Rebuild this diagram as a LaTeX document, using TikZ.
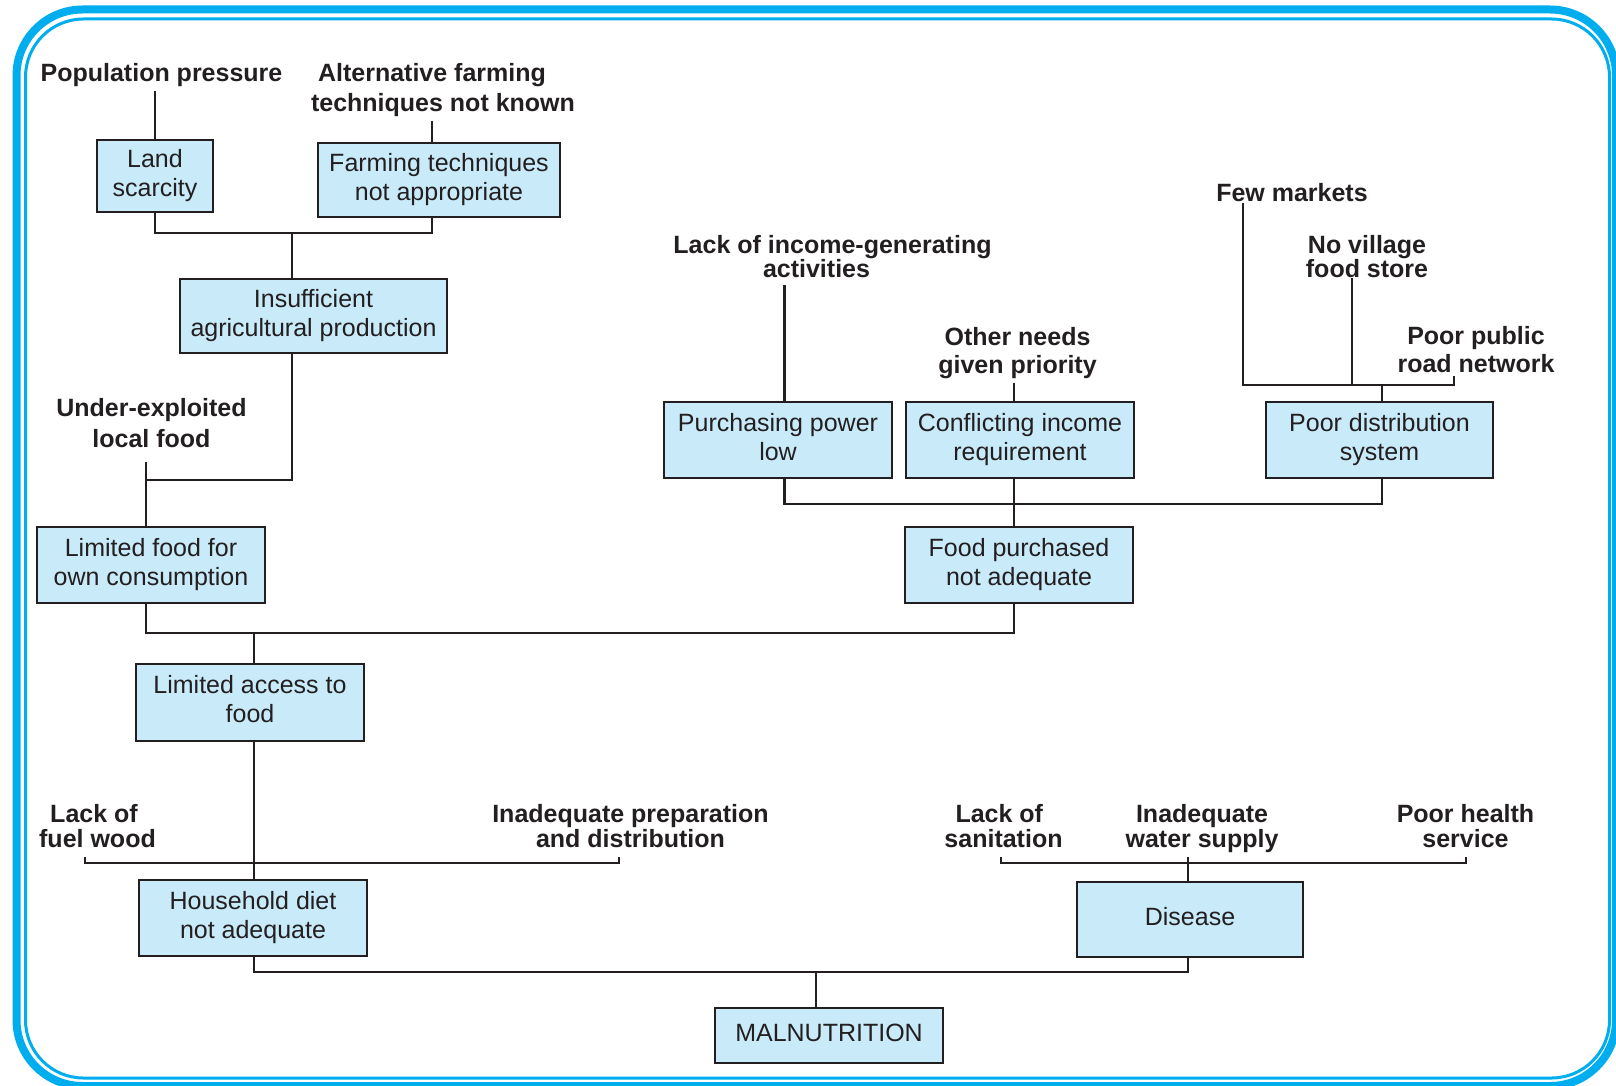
\documentclass[tikz,border=0pt]{standalone}
\usepackage{fontspec}
\setmainfont{Liberation Sans}
\usetikzlibrary{calc}
\definecolor{cy}{HTML}{00AEEF}
\definecolor{bx}{HTML}{C8EAF9}
\definecolor{ink}{HTML}{231F20}
\newcommand\lf[1]{\fontsize{12.5}{#1}\selectfont\bfseries}
\newcommand\boxfont{\fontsize{12.5}{14.5}\selectfont}
\begin{document}
\begin{tikzpicture}[x=0.5pt,y=-0.5pt,
  box/.style={draw=ink, fill=bx, line width=1.4pt, inner sep=0pt, align=center,
    font=\boxfont, text=ink, minimum width=114pt, minimum height=38pt},
  lab/.style={inner sep=1.5pt, align=center, text=ink},
  conn/.style={draw=ink, line width=1.15pt}]
\useasboundingbox (0,0) rectangle (1616,1086);
% frame
\draw[cy, line width=4pt, rounded corners=33pt] (16.5,9.5) rectangle (1616,1086);
\draw[cy, line width=1.5pt, rounded corners=29pt] (25.5,19) rectangle (1609.5,1078);

% boxes
\node[box, minimum width=58pt, minimum height=36pt] (land) at (155,176) {\strut Land\\scarcity\strut};
\node[box, minimum width=121pt, minimum height=37pt] (farm) at (439,180) {\strut Farming techniques\\not appropriate\strut};
\node[box, minimum width=133.5pt, minimum height=37pt] (insuf) at (313.5,316) {\strut Insufficient\\agricultural production\strut};
\node[box] (limfood) at (151,565) {\strut Limited food for\\own consumption\strut};
\node[box] (purch) at (778,440) {\strut Purchasing power\\low\strut};
\node[box] (confl) at (1020,440) {\strut Conflicting income\\requirement\strut};
\node[box, minimum width=113.5pt] (distr) at (1379.5,440) {\strut Poor distribution\\system\strut};
\node[box] (foodp) at (1019,565) {\strut Food purchased\\not adequate\strut};
\node[box, minimum height=38.5pt] (access) at (250,702.5) {\strut Limited access to\\food\strut};
\node[box] (house) at (253,918) {\strut Household diet\\not adequate\strut};
\node[box, minimum width=113pt, minimum height=37.5pt] (disease) at (1190,919.5) {\strut Disease};
\node[box, minimum height=27.5pt] (maln) at (829,1035.5) {\strut MALNUTRITION};

% labels
\node[lab, font=\lf{15}] (poplab) at (161.5,75.5) {Population pressure};
\node[lab, font=\lf{15}] (altlab) at (443,90.5) {Alternative farming\hspace*{11pt}\\techniques not known};
\node[lab, font=\lf{15.5}] (underlab) at (151.5,423.5) {Under-exploited\\local food};
\node[lab, font=\lf{12}] (incomelab) at (832.5,257) {Lack of income-generating\\activities\hspace*{16pt}};
\node[lab, font=\lf{14}] (otherlab) at (1017.5,353.5) {Other needs\\given priority};
\node[lab, font=\lf{15}] (fewlab) at (1292,193) {Few markets};
\node[lab, font=\lf{12}] (villab) at (1367,257) {No village\\food store};
\node[lab, font=\lf{14}] (roadlab) at (1476,350) {Poor public\\road network};
\node[lab, font=\lf{12.5}] (fuellab) at (97.5,826.5) {Lack of\hspace*{3.5pt}\\fuel wood};
\node[lab, font=\lf{12.5}] (preplab) at (630.5,826.5) {Inadequate preparation\\and distribution};
\node[lab, font=\lf{12.5}] (sanlab) at (1003.5,826.5) {Lack of\hspace*{4.25pt}\\sanitation};
\node[lab, font=\lf{12.5}] (waterlab) at (1202,829) {Inadequate\\water supply};
\node[lab, font=\lf{12.5}] (healthlab) at (1465.5,826.5) {Poor health\\service};

% connector positions
\coordinate (cFarm) at (432,0);
\coordinate (cIns) at (292,0);
\coordinate (cLim) at (146,0);
\coordinate (cAcc) at (254,0);
\coordinate (cPur) at (784.5,0);
\coordinate (cCon) at (1014,0);
\coordinate (cDis) at (1382,0);
\coordinate (cFew) at (1243,0);
\coordinate (cVil) at (1352,0);
\coordinate (cRoad) at (1454,0);
\coordinate (cMal) at (816,0);
\coordinate (cSick) at (1188,0);
\coordinate (yA) at (0,233);
\coordinate (yB) at (0,480);
\coordinate (yC) at (0,504);
\coordinate (yD) at (0,633);
\coordinate (yE) at (0,863);
\coordinate (yF) at (0,972);
\coordinate (yG) at (0,385);
\coordinate (tL) at (85,857);
\coordinate (tR) at (619,857);
\coordinate (tS) at (1001,857);
\coordinate (tH) at (1466,857);
\coordinate (sUnder) at (146,462);
\coordinate (sIncome) at (784.5,285);
\coordinate (sFew) at (1243,203);
\coordinate (sVil) at (1352,278);
\coordinate (sRoad) at (1454,376);

% connectors
\draw[conn] (poplab.south -| land.north) -- (land.north);
\draw[conn] (altlab.south -| cFarm) -- (farm.north -| cFarm);
\draw[conn] (land.south) -- (land.south |- yA) -- (cFarm |- yA) -- (farm.south -| cFarm);
\draw[conn] (cIns |- yA) -- (insuf.north -| cIns);
\draw[conn] (insuf.south -| cIns) -- (cIns |- yB) -- (cLim |- yB);
\draw[conn] (sUnder) -- (limfood.north -| cLim);
\draw[conn] (limfood.south -| cLim) -- (cLim |- yD) -- (cCon |- yD) -- (foodp.south -| cCon);
\draw[conn] (cAcc |- yD) -- (access.north -| cAcc);
\draw[conn] (access.south -| cAcc) -- (house.north -| cAcc);
\draw[conn] (tL) -- (tL |- yE) -- (tR |- yE) -- (tR);
\draw[conn] (house.south -| cAcc) -- (cAcc |- yF) -- (cSick |- yF) -- (disease.south -| cSick);
\draw[conn] (cMal |- yF) -- (maln.north -| cMal);
\draw[conn] (tS) -- (tS |- yE) -- (tH |- yE) -- (tH);
\draw[conn] (waterlab.south -| cSick) -- (disease.north -| cSick);
\draw[conn] (sIncome) -- (purch.north -| cPur);
\draw[conn] (otherlab.south -| cCon) -- (confl.north -| cCon);
\draw[conn] (purch.south -| cPur) -- (cPur |- yC) -- (cDis |- yC) -- (distr.south -| cDis);
\draw[conn] (confl.south -| cCon) -- (foodp.north -| cCon);
\draw[conn] (sFew) -- (cFew |- yG) -- (cRoad |- yG) -- (sRoad);
\draw[conn] (sVil) -- (cVil |- yG);
\draw[conn] (cDis |- yG) -- (distr.north -| cDis);
\end{tikzpicture}
\end{document}
